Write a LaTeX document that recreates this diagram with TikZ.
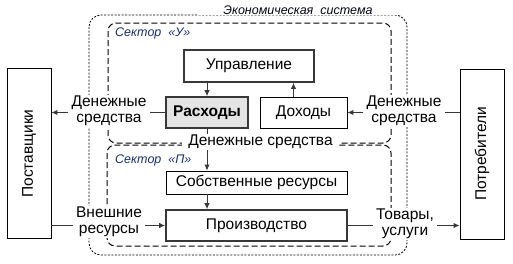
\documentclass[tikz,border=0pt]{standalone}
\usepackage{fontspec}
\setmainfont{Liberation Sans}
\usepackage{tikz}
\usetikzlibrary{arrows.meta}
\definecolor{sectorblue}{RGB}{24, 44, 112}
\definecolor{linegray}{RGB}{56, 56, 56}
\definecolor{costgray}{RGB}{228, 228, 228}

\begin{document}
\begin{tikzpicture}[
    x=1pt, y=-1pt,
    font=\fontsize{15.5}{16}\selectfont,
    box/.style={draw=black, line width=0.9pt, align=center, inner sep=0pt},
    tbox/.style={draw=linegray, line width=1.7pt, align=center, inner sep=0pt},
    side/.style={draw=black, line width=0.9pt, rotate=90, inner sep=0pt,
        minimum width=170pt, minimum height=44pt},
    flow/.style={fill=white, align=center, inner xsep=3pt, inner ysep=1pt},
    sector/.style={draw=black, line width=1pt, dash pattern=on 6pt off 3pt, rounded corners=8pt},
    tag/.style={font=\fontsize{12.5}{13}\selectfont\itshape, text=sectorblue, inner sep=0pt},
    link/.style={draw=linegray, line width=1pt},
    arrow/.style={-{Latex[length=6pt,width=5.5pt]}, draw=linegray, line width=1pt}
]
\useasboundingbox (0,0) rectangle (513,263);
% side boxes
\node[side] (post) at (29,153.5) {Поставщики};
\node[side] (potr) at (482,154) {Потребители};
% inner boxes
\node[tbox, minimum width=130pt, minimum height=32pt] (upr) at (249,66) {Управление};
\node[tbox, fill=costgray, minimum width=82pt, minimum height=31pt] (rash) at (207,112.5) {\bfseries Расходы};
\node[box, minimum width=87pt, minimum height=31pt] (doh) at (303.5,112.5) {Доходы};
\node[box, minimum width=181pt, minimum height=23pt] (sobs) at (256.5,182.5) {Собственные ресурсы};
\node[tbox, minimum width=181pt, minimum height=31pt] (proiz) at (256.5,225.5) {Производство};
% system and sectors
\draw[black, line width=0.8pt, dash pattern=on 2pt off 1.5pt, rounded corners=12pt]
    (89,15) rectangle (407,255);
\draw[sector] (108,23) rectangle (391,143);
\draw[sector] (107,145) rectangle (391,246);
% links under the labels
\draw[arrow] (upr.south -| rash.north) -- (rash.north);
\draw[arrow] ([xshift=-10pt]doh.north) -- ([xshift=-10pt]doh.north |- upr.south);
\draw[arrow] (rash.south) -- (rash.south |- sobs.north);
\draw[arrow] (sobs.south -| rash.south) -- (proiz.north -| rash.south);
% labels
\node[tag, text=black!85!sectorblue, fill=white, inner xsep=26pt, inner ysep=1pt] (econ) at (298,10) {Экономическая\ \ система};
\node[tag, anchor=west] (secU) at (115,33) {Сектор\ \ «У»};
\node[tag, anchor=west] (secP) at (115,160) {Сектор\ \ «П»};
\node[flow] (dsL) at (109,111) {Денежные\\средства};
\node[flow] (dsR) at (404,111) {Денежные\\средства};
\node[flow, inner xsep=6pt] (dsM) at (260.5,142) {Денежные средства};
\node[flow] (vnres) at (109,222) {Внешние\\ресурсы};
\node[flow] (tovar) at (405,224) {Товары,\\услуги};
% money and goods
\draw[link] (rash.west) -- (rash.west -| dsL.east);
\draw[arrow] (rash.west -| dsL.west) -- (rash.west -| post.south);
\draw[link] (doh.east -| potr.north) -- (doh.east -| dsR.east);
\draw[arrow] (doh.east -| dsR.west) -- (doh.east);
\draw[link] (proiz.west -| post.south) -- (proiz.west -| vnres.west);
\draw[arrow] (proiz.west -| vnres.east) -- (proiz.west);
\draw[link] (proiz.east) -- (proiz.east -| tovar.west);
\draw[arrow] (proiz.east -| tovar.east) -- (proiz.east -| potr.north);
\end{tikzpicture}
\end{document}
